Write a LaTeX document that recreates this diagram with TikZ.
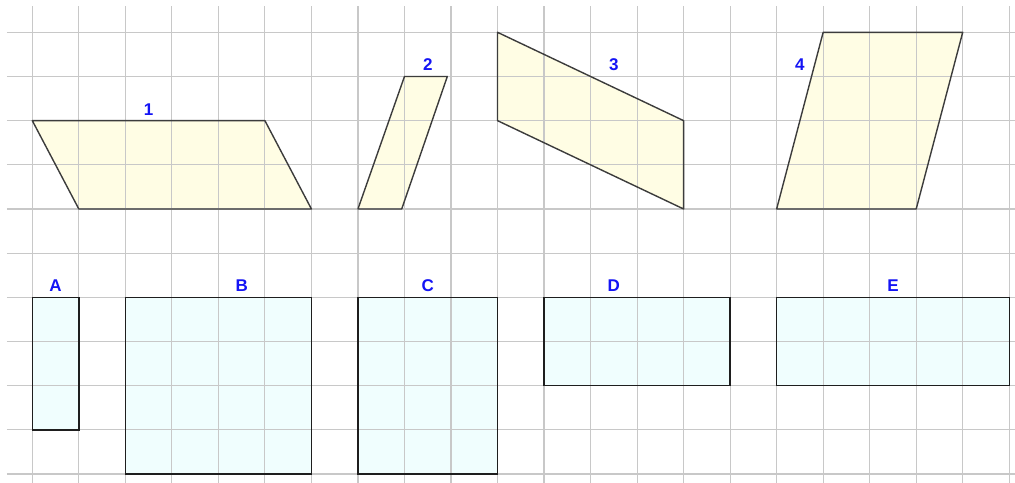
\documentclass[tikz,border=0pt]{standalone}
\usepackage{fontspec}
\setmainfont{Liberation Serif}
\newfontfamily\lblfont{Liberation Sans}
\begin{document}
\begin{tikzpicture}[x=46.52bp, y=-44.17bp,
  gridline/.style={draw=gridgray, line width=1.1bp},
  para/.style={fill=parafill},
  paraedge/.style={draw=edgegray, line width=1.4bp, line join=round},
  rectfill/.style={fill=rectcyan},
  rectedge/.style={draw=edgeblack, line width=1.4bp},
  lbl/.style={text=labelblue, font=\lblfont\bfseries\fontsize{17bp}{17bp}\selectfont, anchor=base, inner sep=0pt}]
\definecolor{gridgray}{RGB}{200,200,200}
\definecolor{parafill}{RGB}{255,253,228}
\definecolor{rectcyan}{RGB}{240,254,254}
\definecolor{edgegray}{RGB}{60,60,60}
\definecolor{edgeblack}{RGB}{30,30,30}
\definecolor{labelblue}{RGB}{20,20,245}
\useasboundingbox (-0.6944,-0.7313) rectangle (21.124,10.181);
\fill[white] (-0.6944,-0.7313) rectangle (21.124,10.181);
\begin{scope}
\clip (-0.6944,-0.7313) rectangle (21.124,10.181);
% fills
\fill[para] (0,2) -- (5,2) -- (6,4) -- (1,4) -- cycle;
\fill[para] (7,4) -- (7.941,4) -- (8.921,1) -- (8,1) -- cycle;
\fill[para] (10,0) -- (14,2) -- (14,4) -- (10,2) -- cycle;
\fill[para] (16,4) -- (19,4) -- (20,0) -- (17,0) -- cycle;
\fill[rectfill] (0,6) rectangle (1,9);
\fill[rectfill] (2,6) rectangle (6,10);
\fill[rectfill] (7,6) rectangle (10,10);
\fill[rectfill] (11,6) rectangle (15,8);
\fill[rectfill] (16,6) rectangle (21,8);
% grid
\foreach \i in {0,...,21} \draw[gridline] (\i,-0.595) -- (\i,10.3);
\foreach \j in {0,...,10} \draw[gridline] (-0.544,\j) -- (21.2,\j);
% outlines
\draw[paraedge] (0,2) -- (5,2) -- (6,4) -- (1,4) -- cycle;
\draw[paraedge] (7,4) -- (7.941,4) -- (8.921,1) -- (8,1) -- cycle;
\draw[paraedge] (10,0) -- (14,2) -- (14,4) -- (10,2) -- cycle;
\draw[paraedge] (16,4) -- (19,4) -- (20,0) -- (17,0) -- cycle;
\draw[rectedge] (0,6) rectangle (1,9);
\draw[rectedge] (2,6) rectangle (6,10);
\draw[rectedge] (7,6) rectangle (10,10);
\draw[rectedge] (11,6) rectangle (15,8);
\draw[rectedge] (16,6) rectangle (21,8);
\end{scope}
% labels
\node[lbl] (l1) at (2.5,1.879) {1};
\node[lbl] (l2) at (8.5,0.872) {2};
\node[lbl] (l3) at (12.5,0.872) {3};
\node[lbl] (l4) at (16.5,0.872) {4};
\node[lbl] (lA) at (0.5,5.875) {A};
\node[lbl] (lB) at (4.5,5.875) {B};
\node[lbl] (lC) at (8.5,5.875) {C};
\node[lbl] (lD) at (12.5,5.875) {D};
\node[lbl] (lE) at (18.5,5.875) {E};
\end{tikzpicture}
\end{document}
